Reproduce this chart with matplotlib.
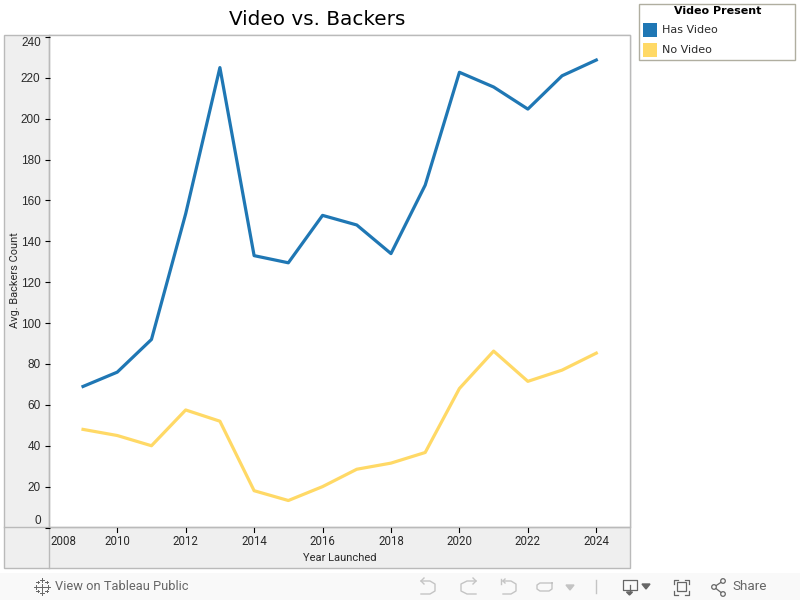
import matplotlib
matplotlib.use("Agg")
import matplotlib.pyplot as plt
from matplotlib.patches import Rectangle, Circle

years = [2009, 2010, 2011, 2012, 2013, 2014, 2015, 2016, 2017, 2018, 2019, 2020, 2021, 2022, 2023, 2024]
has_video = [69, 76, 92, 153.5, 225, 133, 129.5, 152.7, 148, 134, 167.5, 222.7, 215.5, 204.7, 221, 228.7]
no_video = [48, 45, 40, 57.5, 52, 18, 13.2, 20, 28.5, 31.5, 36.7, 68, 86.3, 71.5, 77, 85.3]
x_ticks = [2010, 2012, 2014, 2016, 2018, 2020, 2022, 2024]
y_ticks = [0, 20, 40, 60, 80, 100, 120, 140, 160, 180, 200, 220, 240]

BLUE = "#1f77b4"
YELLOW = "#ffd966"
BORDER = "#bababa"
PANE = "#efefef"
TEXT = "#2a2a2a"

W, H = 800, 600
fig = plt.figure(figsize=(W / 100, H / 100), dpi=100, facecolor="white")

# overlay in pixel coordinates for the panes and the toolbar
bg = fig.add_axes([0, 0, 1, 1], zorder=0)
bg.set_xlim(0, W)
bg.set_ylim(H, 0)
bg.axis("off")

bg.add_patch(Rectangle((4, 35), 626, 533, fc=PANE, ec=BORDER, lw=1))
bg.add_patch(Rectangle((49, 35), 581, 492, fc="white", ec=BORDER, lw=1))
bg.plot([4, 630], [527, 527], color=BORDER, lw=1)
bg.plot([49, 49], [35, 568], color=BORDER, lw=1)
bg.add_patch(Rectangle((0, 573), W, 27, fc="#f9f9f9", ec="none"))

# ---- main plot
L, R, T, B = 49.5, 630.5, 35.5, 527.5
XMIN, XMAX = 2008.02, 2025.0
ax = fig.add_axes([L / W, 1 - B / H, (R - L) / W, (B - T) / H], zorder=1)
ax.set_xlim(XMIN, XMAX)
ax.set_ylim(0, 240.7)
ax.patch.set_visible(False)
ax.plot(years, has_video, color=BLUE, lw=2.3, solid_joinstyle="round", clip_on=False)
ax.plot(years, no_video, color=YELLOW, lw=2.3, solid_joinstyle="round", clip_on=False)
for s in ax.spines.values():
    s.set_visible(False)

ax.set_xticks(x_ticks)
ax.set_yticks(y_ticks)
ax.tick_params(axis="x", length=0, labelbottom=False)
ax.tick_params(axis="y", direction="out", length=3.5, width=0.8, color="black", pad=3,
               labelsize=8.5, labelcolor=TEXT)
for lab in ax.get_yticklabels():
    lab.set_family("Liberation Sans")

# x tick marks sit inside the bottom pane
for yr in x_ticks:
    px = L + (yr - XMIN) / (XMAX - XMIN) * (R - L)
    bg.plot([px, px], [527.5, 532], color="black", lw=0.8)
    bg.text(px, 541.5, str(yr), ha="center", va="center", fontsize=8.3, color=TEXT,
            family="Roboto")
bg.text(63, 541.5, "2008", ha="center", va="center", fontsize=8.3, color=TEXT, family="Roboto")

# first and last y labels are pushed inside the pane
ylabs = ax.get_yticklabels()
ylabs[0].set_visible(False)
ylabs[-1].set_visible(False)
bg.text(41, 520.5, "0", ha="right", va="center", fontsize=8.5, color=TEXT, family="Liberation Sans")
bg.text(41, 42.5, "240", ha="right", va="center", fontsize=8.5, color=TEXT, family="Liberation Sans")

bg.text(339.5, 558, "Year Launched", ha="center", va="center", fontsize=8, color=TEXT, family="Roboto")
bg.text(15, 280, "Avg. Backers Count", rotation=90, ha="center", va="center", fontsize=7.9,
        color=TEXT, family="Roboto")
bg.text(317, 19.5, "Video vs. Backers", ha="center", va="center", fontsize=14.4, color="black",
        family="DejaVu Sans")

# ---- legend
bg.add_patch(Rectangle((639, 4), 156, 56, fc="white", ec="#b0aea0", lw=1))
bg.text(717.5, 11.5, "Video Present", ha="center", va="center", fontsize=8, fontweight="bold",
        color="black", family="DejaVu Sans")
for name, col, yc in [("Has Video", BLUE, 30), ("No Video", YELLOW, 50)]:
    bg.add_patch(Rectangle((643, yc - 7), 14, 14, fc=col, ec="none"))
    bg.text(662, yc, name, ha="left", va="center", fontsize=8, color=TEXT, family="DejaVu Sans")

# ---- toolbar
bg.text(55, 586.5, "View on Tableau Public", ha="left", va="center", fontsize=9.3, color="#666666",
        family="Roboto")
bg.text(732, 586.5, "Share", ha="left", va="center", fontsize=9.7, color="#666666", family="Roboto")

# tableau logo: small crosses
for cx, cy, r in [(42, 586.5, 3), (36, 586.5, 2), (48, 586.5, 2), (42, 580, 2), (42, 593, 2),
                  (37.5, 582, 1.2), (46.5, 582, 1.2), (37.5, 591, 1.2), (46.5, 591, 1.2)]:
    bg.plot([cx - r, cx + r], [cy, cy], color="#666666", lw=0.7)
    bg.plot([cx, cx], [cy - r, cy + r], color="#666666", lw=0.7)

# undo, redo, revert, refresh
LIGHT = "#c4c4c4"
bg.plot([421, 430, 435, 435, 430, 421], [581, 581, 584, 591, 594, 594], color=LIGHT, lw=1)
bg.plot([424, 421, 424], [578, 581, 584], color=LIGHT, lw=1)
bg.plot([476, 467, 461, 461, 467, 476], [581, 581, 584, 591, 594, 594], color=LIGHT, lw=1)
bg.plot([473, 476, 473], [578, 581, 584], color=LIGHT, lw=1)
bg.plot([503, 511, 516, 516, 511, 503], [581, 581, 584, 591, 594, 594], color=LIGHT, lw=1)
bg.plot([501, 501], [579, 584], color=LIGHT, lw=1)
bg.plot([505, 503, 505], [579, 581, 583], color=LIGHT, lw=1)
bg.plot([552, 540, 537, 537, 540, 549, 552, 552], [583, 583, 585, 589, 591, 591, 589, 583], color=LIGHT, lw=1)
bg.fill([566, 574, 570], [585, 585, 590], color=LIGHT)
bg.plot([595.5, 595.5], [580, 593], color=LIGHT, lw=1)

# download
bg.plot([629, 622.5, 622.5, 636.5, 636.5, 631], [590, 590, 579.5, 579.5, 590, 590], color="#666666", lw=0.9)
bg.plot([629.5, 629.5], [585, 593], color="#666666", lw=0.9)
bg.fill([626.5, 632.5, 629.5], [592, 592, 595], color="#666666")
bg.fill([642, 650, 646], [584, 584, 589], color="#666666")

# fullscreen
bg.add_patch(Rectangle((677, 582), 9, 9, fc="none", ec="#666666", lw=0.9))
for xa, xb in [(673.5, 677.5), (689, 685)]:
    bg.plot([xb, xa, xa], [579.5, 579.5, 583.5], color="#666666", lw=0.9)
    bg.plot([xb, xa, xa], [594.5, 594.5, 590.5], color="#666666", lw=0.9)

# share
bg.plot([723, 714, 723], [581, 587, 594], color="#666666", lw=0.9)
for cx, cy in [(723, 581), (714, 587), (723, 594)]:
    bg.add_patch(Circle((cx, cy), 2.3, fc="#f9f9f9", ec="#666666", lw=0.9, zorder=3))

fig.savefig("out.png", dpi=100)
